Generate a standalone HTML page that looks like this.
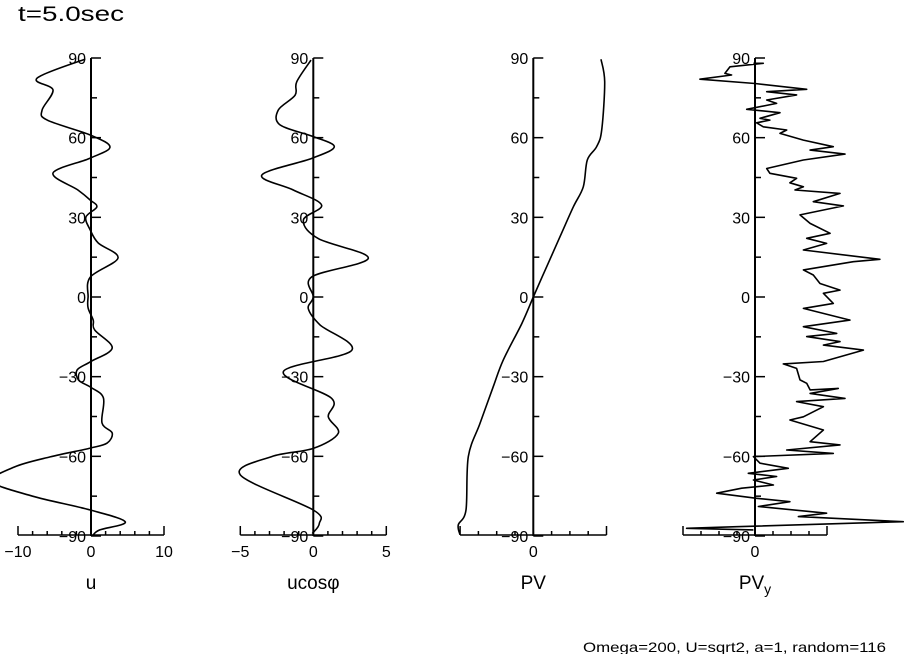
<!DOCTYPE html>
<html><head><meta charset="utf-8"><style>
body{margin:0;background:#fff;}
svg{display:block;font-family:"Liberation Sans",sans-serif;}
</style></head><body>
<svg id="c" width="904" height="654" viewBox="0 0 904 654">
<text x="18" y="21" font-size="21" textLength="106" lengthAdjust="spacingAndGlyphs">t=5.0sec</text>
<text x="583" y="652" font-size="14" textLength="303" lengthAdjust="spacingAndGlyphs">Omega=200, U=sqrt2, a=1, random=116</text>
</svg>
<script>
const latTicks=[90,60,30,0,-30,-60,-90];
const uLat=[89.6,82.4,78,70.4,66.6,61,56.5,52.3,46.7,40.3,36.5,33.9,30.1,25.2,20.3,14.7,7.5,0,-4.1,-8.7,-12.4,-19.2,-24.4,-27.5,-31.3,-33.9,-38,-47.4,-51.2,-55,-56.9,-60.2,-64,-69.5,-75,-80.2,-84.7,-87.7,-89.6];
const uVal=[-0.8,-7.4,-5.2,-6.7,-6,-0.1,2.6,-0.1,-5.2,-1.8,-0.1,0.8,-0.7,-0.1,1,3.7,-0.1,-0.4,-0.4,0.3,0.5,2.9,-0.1,-1.9,-1.7,-0.1,1.7,1.5,2.9,2.2,-0.1,-5.6,-10.5,-13.5,-8,-0.1,4.7,1.2,0.3];
const ucLat=[89.2,81,76,70.4,64.8,60.4,56.6,52.2,45.9,40.3,34.6,29,22,14.6,7.6,0,-4.4,-10.5,-20.1,-28.1,-38.2,-45.1,-51.3,-57,-60.1,-67,-80.2,-85.3,-89.1];
const ucVal=[-0.16,-1.14,-1.25,-2.4,-2.28,0,1.44,-0.1,-3.53,-1.37,0.57,-0.68,0.34,3.77,-0.1,0,-0.34,0.46,2.63,-2.05,1.26,1.03,1.71,0,-2.85,-5,0,0.41,-0.07];
const pvLat=[89.5,81,62.9,56.6,51.6,41.5,34,22.7,11.4,0,-10,-23.7,-33.8,-47.6,-60.1,-80.2,-85.8,-89.6];
const pvVal=[3.7,3.9,3.74,3.46,2.95,2.73,2.19,1.46,0.73,0,-0.63,-1.64,-2.19,-2.91,-3.55,-3.68,-4.1,-4.0];
const pvyLat=[88,88,86.7,84.2,83.6,82,80.4,78.2,77.3,76.1,74.2,72.9,70.7,69.4,67.3,66.6,65.6,64.1,62.9,61.6,59.1,56.6,55.3,53.8,51.6,48.4,46.6,44.7,43,41.5,40.3,39,35.9,34.3,30.9,27.7,24,22.1,20.2,17.7,14.2,13.3,10.2,8.3,5.1,2.6,1.4,-2.4,-4.3,-8.7,-11.2,-13.7,-14.9,-16.8,-18.1,-20,-24.3,-25.2,-26.9,-31.2,-32.5,-35,-34.4,-36.3,-38.2,-39.4,-41.3,-45.1,-46.3,-50.1,-54.5,-55.7,-57.6,-58.9,-60.1,-62.6,-64.5,-66.4,-67.6,-68.9,-70.8,-72,-73.9,-75.8,-77.1,-78.9,-81.4,-82.7,-84.6,-86.5,-87.1,-87.7];
const pvyVal=[-0.09,0.46,-1.39,-1.67,-1.3,-3.06,0,2.87,0.65,2.31,0.65,1.2,-0.46,1.39,0.28,0.83,0.09,0.46,1.76,1.39,2.69,4.35,3.06,5,2.69,0.65,0.83,2.31,1.94,2.69,2.22,4.72,3.24,4.91,2.5,3.06,4.17,2.87,3.98,2.69,6.94,5.46,2.69,3.24,3.61,4.72,3.8,4.35,2.69,5.28,2.69,4.54,2.87,4.72,3.8,6.02,3.8,1.57,2.31,2.5,2.87,3.06,4.63,3.06,5,2.31,3.8,2.69,1.94,3.8,3.06,4.72,1.76,4.35,-0.09,0.28,1.85,-0.37,1.2,-0.09,1.02,-0.74,-2.13,0.09,1.94,0.19,3.98,2.41,8.24,-1.02,-3.8,-0.09];
const uTicks=[-10,0,10];
const ucTicks=[-5,0,5];
const pvTicks=[0];
const pvyTicks=[0];

const NS="http://www.w3.org/2000/svg";
const svg=document.getElementById('c');
const yTop=58,yBot=536;
function yS(d){return yBot-(d+90)/180*(yBot-yTop);}
function smoothPath(p){
  let d='M'+p[0][0].toFixed(1)+','+p[0][1].toFixed(1);
  for(let i=0;i<p.length-1;i++){
    const p0=p[i-1]||p[i],p1=p[i],p2=p[i+1],p3=p[i+2]||p2;
    const c1=[p1[0]+(p2[0]-p0[0])/6,p1[1]+(p2[1]-p0[1])/6];
    const c2=[p2[0]-(p3[0]-p1[0])/6,p2[1]-(p3[1]-p1[1])/6];
    d+=' C'+c1.map(v=>v.toFixed(1)).join(',')+' '+c2.map(v=>v.toFixed(1)).join(',')+' '+p2.map(v=>v.toFixed(1)).join(',');
  }
  return d;
}
function panel(name,ax,pxu,xmin,xmax,minorStep,labels,lat,val,title,sub,smooth){
  const xS=v=>ax+v*pxu;
  const g=document.createElementNS(NS,'g');svg.appendChild(g);
  
  
  function add(tag,at,txt){const e=document.createElementNS(NS,tag);for(const k in at)e.setAttribute(k,at[k]);if(txt!==undefined)e.textContent=txt;g.appendChild(e);return e;}
  const va=add('line',{x1:ax,y1:yTop,x2:ax,y2:yBot,stroke:'#000','stroke-width':2});
  
  
  for(let d=-90;d<=90;d+=15){
    const major=d%30===0;
    add('line',{x1:ax,y1:yS(d),x2:ax+(major?10:6),y2:yS(d),stroke:'#000','stroke-width':1.5});
  }
  latTicks.forEach(d=>{
    const t=add('text',{x:ax-5,y:yS(d)+6,'font-size':16,'text-anchor':'end'},d<0?'\u2212'+(-d):String(d));
    
    
  });
  const xa=add('line',{x1:xS(xmin),y1:yBot-1,x2:xS(xmax),y2:yBot-1,stroke:'#000','stroke-width':1.5});
  
  
  for(let v=xmin;v<=xmax+1e-9;v+=minorStep){
    const end=Math.abs(v-xmin)<1e-9||Math.abs(v-xmax)<1e-9;
    add('line',{x1:xS(v),y1:yBot-1,x2:xS(v),y2:yBot-(end?10:5),stroke:'#000','stroke-width':1.5});
  }
  labels.forEach(v=>{
    const t=add('text',{x:xS(v),y:557,'font-size':16,'text-anchor':'middle'},v<0?'\u2212'+(-v):String(v));
    
    
  });
  const tt=add('text',{x:ax,y:589,'font-size':19,'text-anchor':'middle'});
  
  
  tt.appendChild(document.createTextNode(title));
  if(sub){const s=document.createElementNS(NS,'tspan');s.setAttribute('font-size',14);s.setAttribute('dy',5);s.textContent=sub;tt.appendChild(s);}
  const p=lat.map((d,i)=>[xS(val[i]),yS(d)]);
  let pl;
  if(smooth){pl=add('path',{d:smoothPath(p),fill:'none',stroke:'#000','stroke-width':1.6});}
  else{pl=add('polyline',{points:p.map(q=>q[0].toFixed(1)+','+q[1].toFixed(1)).join(' '),fill:'none',stroke:'#000','stroke-width':1.6,'stroke-linejoin':'round'});}
  
  
}
panel('u',91,7.3,-10,10,2,uTicks,uLat,uVal,'u','',true);
panel('ucos',313.3,14.6,-5,5,1,ucTicks,ucLat,ucVal,'ucos\u03c6','',true);
panel('pv',533.3,18.3,-4,4,1,pvTicks,pvLat,pvVal,'PV','',true);
panel('pvy',755,18,-4,4,1,pvyTicks,pvyLat,pvyVal,'PV','y',false);
</script>
</body></html>
